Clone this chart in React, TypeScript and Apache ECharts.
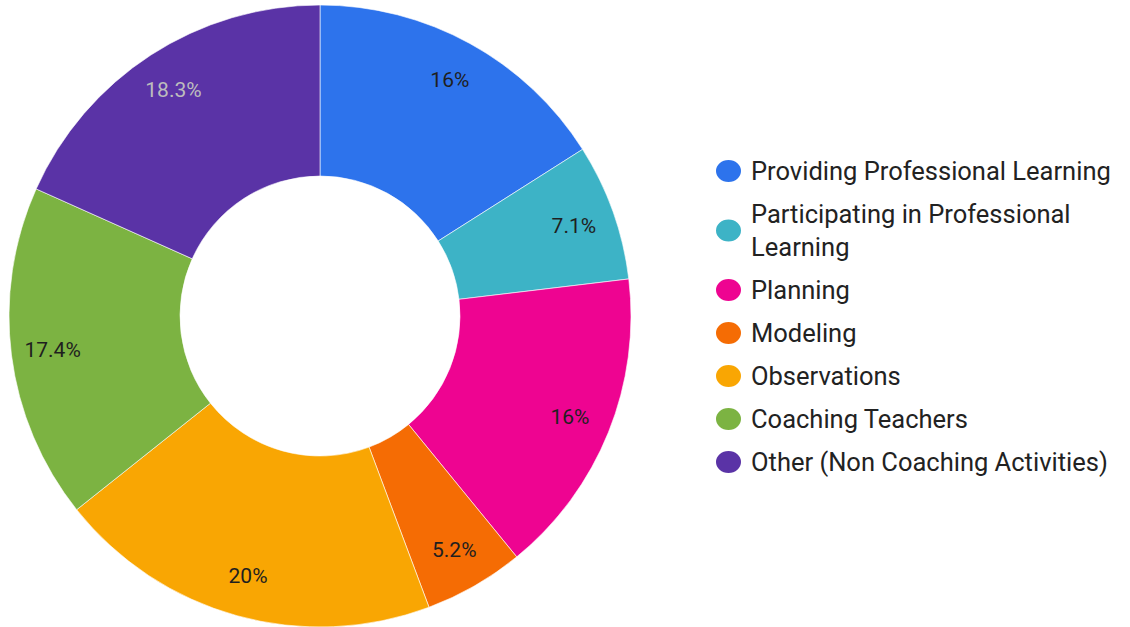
import React, { useEffect, useRef } from "react";
import * as echarts from "echarts";

const categories = [
  "Providing Professional Learning",
  "Participating in Professional Learning",
  "Planning",
  "Modeling",
  "Observations",
  "Coaching Teachers",
  "Other (Non Coaching Activities)",
];
const values = [16, 7.1, 16, 5.2, 20, 17.4, 18.3];
const colors = ["#2D73EC", "#3DB3C6", "#EE0491", "#F56C04", "#F9A603", "#7CB342", "#5A33A6"];
const labelColors = ["#1f1f1f", "#1f1f1f", "#1f1f1f", "#1f1f1f", "#1f1f1f", "#1f1f1f", "#BDBDBD"];

const ellipseIcon = "path://M0,50 A50,50 0 1,1 100,50 A50,50 0 1,1 0,50 Z";

export default function App() {
  const ref = useRef<HTMLDivElement>(null);
  useEffect(() => {
    if (!ref.current) return;
    const chart = echarts.init(ref.current, null, { renderer: "svg" });
    const cx = 320;
    const cy = 316;
    chart.setOption({
      animation: false,
      textStyle: { fontFamily: "Roboto" },
      legend: {
        orient: "vertical",
        left: 714,
        top: 158,
        padding: 0,
        itemGap: 17,
        itemWidth: 27,
        itemHeight: 24,
        icon: ellipseIcon,
        symbolKeepAspect: false,
        selectedMode: false,
        formatter: (name: string) =>
          name === "Participating in Professional Learning"
            ? "Participating in Professional\nLearning"
            : name,
        textStyle: { fontSize: 25.5, color: "#222", fontFamily: "Roboto", padding: [0, 0, 0, 4] },
        data: categories.map((c) =>
          c === "Participating in Professional Learning"
            ? { name: c, textStyle: { height: 33, lineHeight: 33 } }
            : { name: c }
        ),
      },
      series: [
        {
          type: "pie",
          center: [cx, cy],
          radius: [140, 311],
          startAngle: 90,
          clockwise: true,
          label: { show: false },
          labelLine: { show: false },
          emphasis: { disabled: true },
          itemStyle: { borderColor: "#fff", borderWidth: 0.6 },
          data: categories.map((c, i) => ({ name: c, value: values[i], itemStyle: { color: colors[i] } })),
        },
        {
          type: "pie",
          center: [cx, cy],
          radius: [222, 311],
          startAngle: 90,
          clockwise: true,
          silent: true,
          emphasis: { disabled: true },
          labelLine: { show: false },
          itemStyle: { color: "rgba(0,0,0,0)", borderWidth: 0 },
          label: {
            show: true,
            position: "inside",
            fontSize: 21,
            fontFamily: "Roboto",
            formatter: (p: any) => `${values[p.dataIndex]}%`,
          },
          data: categories.map((c, i) => ({
            name: c,
            value: values[i],
            label: { color: labelColors[i] },
          })),
        },
      ],
    });
    return () => chart.dispose();
  }, []);
  return (
    <div
      ref={ref}
      style={{ position: "fixed", left: 0, top: 0, width: 1130, height: 627, background: "#fff" }}
    />
  );
}
